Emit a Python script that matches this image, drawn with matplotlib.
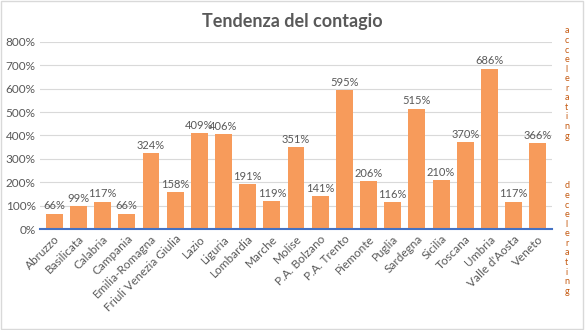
import matplotlib.pyplot as plt
from matplotlib.patches import Rectangle
from matplotlib.ticker import FuncFormatter

regions = ["Abruzzo", "Basilicata", "Calabria", "Campania", "Emilia-Romagna",
           "Friuli Venezia Giulia", "Lazio", "Liguria", "Lombardia", "Marche",
           "Molise", "P.A. Bolzano", "P.A. Trento", "Piemonte", "Puglia",
           "Sardegna", "Sicilia", "Toscana", "Umbria", "Valle d'Aosta", "Veneto"]
values = [66, 99, 117, 66, 324, 158, 409, 406, 191, 119, 351, 141, 595, 206,
          116, 515, 210, 370, 686, 117, 366]

plt.rcParams['font.family'] = ['Lato', 'DejaVu Sans']
grey = '#595959'
bar_color = '#F79B5B'

fig = plt.figure(figsize=(5.85, 3.3), dpi=100)
ax = fig.add_axes([0.068, 0.306, 0.876, 0.567])

x = range(len(regions))
ax.bar(x, values, width=0.7, color=bar_color, zorder=2)
for i, v in enumerate(values):
    ax.text(i, v + 10, f"{v}%", ha='center', va='bottom', fontsize=8, color=grey)

ax.set_ylim(0, 800)
ax.set_xlim(-0.6, len(regions) - 0.4)
ax.set_yticks(range(0, 801, 100))
ax.yaxis.set_major_formatter(FuncFormatter(lambda v, p: f"{int(v)}%"))
ax.grid(axis='y', color='#d9d9d9', linewidth=0.8, zorder=0)
ax.set_xticks(list(x))
ax.set_xticklabels(regions, rotation=45, ha='right', rotation_mode='anchor',
                   fontsize=8.5, color=grey)
ax.tick_params(axis='y', length=0, labelsize=8.5, labelcolor=grey, pad=3)
ax.tick_params(axis='x', length=0, pad=3)
for s in ['top', 'right', 'left']:
    ax.spines[s].set_visible(False)
ax.spines['bottom'].set_color('#4472C4')
ax.spines['bottom'].set_linewidth(1.5)

fig.text(0.5, 0.935, "Tendenza del contagio", ha='center', va='center',
         fontsize=13, fontweight='bold', color=grey)

fig.text(0.969, 0.92, "\n".join("accelerating"), ha='center', va='top',
         fontsize=6.5, linespacing=1.08, color='#C55A11')
fig.text(0.969, 0.45, "\n".join("decelerating"), ha='center', va='top',
         fontsize=6.5, linespacing=1.08, color='#C55A11')

fig.patches.append(Rectangle((0.002, 0.003), 0.995, 0.994, transform=fig.transFigure,
                             fill=False, edgecolor='#d9d9d9', linewidth=1))

fig.savefig("out.png", dpi=100)
